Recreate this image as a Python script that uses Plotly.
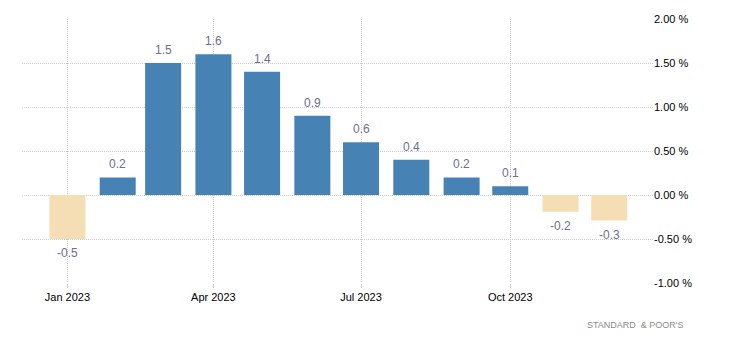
import plotly.graph_objects as go

months = ["2023-01-01", "2023-02-01", "2023-03-01", "2023-04-01", "2023-05-01", "2023-06-01",
          "2023-07-01", "2023-08-01", "2023-09-01", "2023-10-01", "2023-11-01", "2023-12-01"]
values = [-0.5, 0.2, 1.5, 1.6, 1.4, 0.9, 0.6, 0.4, 0.2, 0.1, -0.19, -0.29]
labels = ["-0.5", "0.2", "1.5", "1.6", "1.4", "0.9", "0.6", "0.4", "0.2", "0.1", "-0.2", "-0.3"]
tick_vals = ["2023-01-01", "2023-04-01", "2023-07-01", "2023-10-01"]
tick_text = ["Jan 2023", "Apr 2023", "Jul 2023", "Oct 2023"]
y_ticks = [-1.0, -0.5, 0.0, 0.5, 1.0, 1.5, 2.0]
y_tick_text = ["-1.00 %", "-0.50 %", "0.00 %", "0.50 %", "1.00 %", "1.50 %", "2.00 %"]

colors = ["#4682B4" if v >= 0 else "#F5DEB3" for v in values]
DAY = 86400000
GRID = "#cccccc"
DASH = "1px,1px"

fig = go.Figure()
fig.add_trace(go.Bar(x=months, y=values, marker=dict(color=colors, line=dict(width=0)),
                     width=[22.2 * DAY] * len(values), hoverinfo="x+y"))

for m, v, t in zip(months, values, labels):
    fig.add_annotation(x=m, y=v, text=t, showarrow=False,
                       yanchor="bottom" if v >= 0 else "top",
                       yshift=4 if v >= 0 else -5,
                       font=dict(family="Liberation Sans, Arial, sans-serif", size=12, color="#6e6e8e"))

fig.add_annotation(xref="paper", yref="paper", x=1.052, y=-0.159, xanchor="right", yanchor="middle",
                   text="STANDARD  &amp; POOR'S", showarrow=False,
                   font=dict(family="Liberation Sans, Arial, sans-serif", size=9, color="#8a8a8a"))

fig.update_layout(
    width=731, height=351,
    margin=dict(l=22, r=78, t=19, b=68),
    paper_bgcolor="white", plot_bgcolor="white",
    showlegend=False,
    font=dict(family="Liberation Sans, Arial, sans-serif", size=11, color="#000000"),
    xaxis=dict(
        type="date",
        range=["2022-12-04", "2023-12-28"],
        tickvals=tick_vals, ticktext=tick_text,
        showgrid=True, gridcolor=GRID, griddash=DASH, gridwidth=1,
        ticks="outside", ticklen=4, tickcolor=GRID,
        showline=False, zeroline=False,
        tickfont=dict(size=11, color="#000000"),
    ),
    yaxis=dict(
        side="right",
        range=[-1.0, 2.0],
        tickvals=y_ticks, ticktext=y_tick_text,
        showgrid=True, gridcolor=GRID, griddash=DASH, gridwidth=1,
        zeroline=False, showline=False,
        tickfont=dict(size=11, color="#000000"),
    ),
)

fig.write_html("out.html")
